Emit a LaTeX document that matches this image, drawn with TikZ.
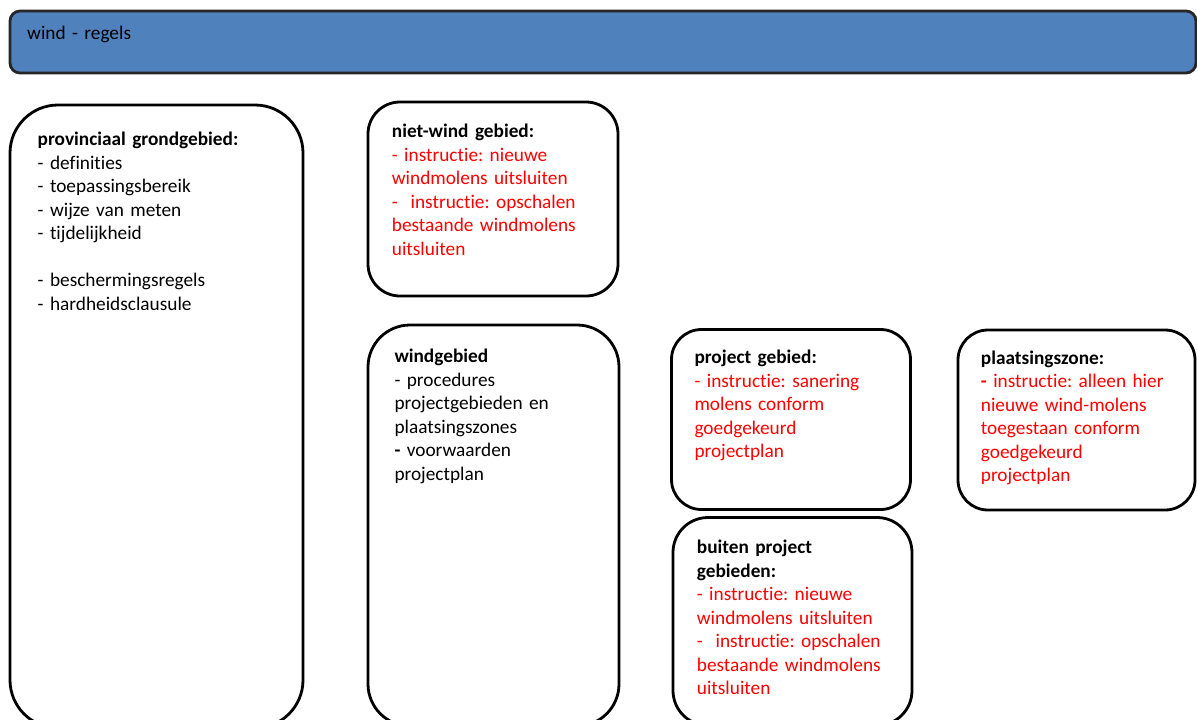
\documentclass[tikz,border=0pt]{standalone}
\usepackage{fontspec}
\setmainfont{Carlito}[Ligatures={NoCommon,NoRequired,NoContextual}]
\definecolor{barblue}{HTML}{4F81BD}
\definecolor{txtred}{HTML}{FF0000}
\newcommand\rd[1]{\textcolor{txtred}{#1}}
\frenchspacing
\begin{document}
\begin{tikzpicture}[x=1pt,y=-1pt,
  box/.style={draw=black, line width=2.8pt, fill=white, anchor=north west, inner sep=0pt, outer sep=0pt},
  txt/.style={anchor=north west, inner sep=0pt, align=left, text width=#1, font=\fontsize{19.3pt}{23.5pt}\selectfont\frenchspacing}]
\useasboundingbox (0,0) rectangle (1197,720);
\clip (0,0) rectangle (1197,720);

% top bar
\node[box, rounded corners=10pt, fill=barblue, draw=black!85, minimum width=1186pt, minimum height=62pt] (bar) at (10,11) {};
\node[txt=300pt] (bartxt) at (27,23.3) {\rule{0pt}{16pt}wind - regels};

% provinciaal grondgebied
\node[box, rounded corners=48pt, minimum width=293pt, minimum height=623pt] (prov) at (10,105) {};
\node[txt=260pt] (provtxt) at (37.5,129.7) {\rule{0pt}{16pt}\textbf{provinciaal grondgebied:}\\
- definities\\
- toepassingsbereik\\
- wijze van meten\\
- tijdelijkheid\\
\mbox{}\\
- beschermingsregels\\
- hardheidsclausule};

% niet-wind gebied
\node[box, rounded corners=32pt, minimum width=250pt, minimum height=194pt] (niet) at (368,102) {};
\node[txt=225pt] (niettxt) at (391.7,121.7) {\rule{0pt}{16pt}\textbf{niet-wind gebied:}\\
\rd{- instructie: nieuwe}\\
\rd{windmolens uitsluiten}\\
\rd{-\ \ instructie: opschalen}\\
\rd{bestaande windmolens}\\
\rd{uitsluiten}};

% windgebied
\node[box, rounded corners=42pt, minimum width=251pt, minimum height=401pt] (wind) at (368,325) {};
\node[txt=220pt] (windtxt) at (394.3,346.7) {\rule{0pt}{16pt}\textbf{windgebied}\\
- procedures\\
projectgebieden en\\
plaatsingszones\\
\textbf{-} voorwaarden\\
projectplan};

% project gebied
\node[box, rounded corners=30pt, minimum width=239pt, minimum height=180pt] (proj) at (671.5,329.5) {};
\node[txt=215pt] (projtxt) at (694.3,347.3) {\rule{0pt}{16pt}\textbf{project gebied:}\\
\rd{- instructie: sanering}\\
\rd{molens conform}\\
\rd{goedgekeurd}\\
\rd{projectplan}};

% buiten project gebieden
\node[box, rounded corners=35pt, minimum width=239pt, minimum height=208pt] (buiten) at (673,517.5) {};
\node[txt=215pt] (buitentxt) at (696.7,537.3) {\rule{0pt}{16pt}\textbf{buiten project}\\
\textbf{gebieden:}\\
\rd{- instructie: nieuwe}\\
\rd{windmolens uitsluiten}\\
\rd{-\ \ instructie: opschalen}\\
\rd{bestaande windmolens}\\
\rd{uitsluiten}};

% plaatsingszone
\node[box, rounded corners=30pt, minimum width=237pt, minimum height=180pt] (plaats) at (958,330) {};
\node[txt=210pt] (plaatstxt) at (980.7,348) {\rule{0pt}{16pt}\textbf{plaatsingszone:}\\
\rd{\textbf{-} instructie: alleen hier}\\
\rd{nieuwe wind-molens}\\
\rd{toegestaan conform}\\
\rd{goedgekeurd}\\
\rd{projectplan}};
\end{tikzpicture}
\end{document}
